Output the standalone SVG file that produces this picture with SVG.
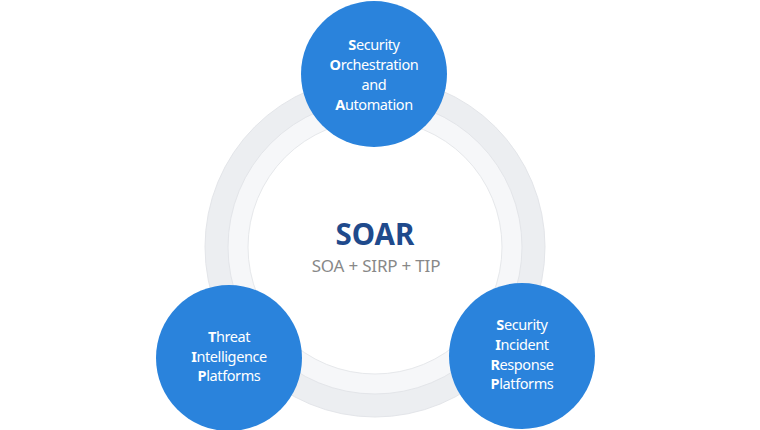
<svg xmlns="http://www.w3.org/2000/svg" width="760" height="430" viewBox="0 0 760 430">
<style>
.node{fill:#2a83dc}
.lbl{font-family:"Noto Sans","Noto Sans CJK KR",sans-serif;font-size:14.5px;fill:#ffffff;text-anchor:middle;letter-spacing:-0.4px}
.b{font-weight:bold}
</style>
<rect width="760" height="430" fill="#ffffff"/>
<g id="ring">
<circle cx="375" cy="247" r="170" fill="#eceef1" stroke="#e3e5e9" stroke-width="1"/>
<circle cx="375" cy="247" r="147" fill="#f6f7f9" stroke="#e3e5e9" stroke-width="1"/>
<circle cx="375" cy="247" r="127" fill="#ffffff" stroke="#e6e8eb" stroke-width="1"/>
</g>
<g id="center">
<text x="375" y="245" font-family="'Noto Sans','Noto Sans CJK KR',sans-serif" font-size="29.5" font-weight="bold" fill="#1f4a8c" text-anchor="middle">SOAR</text>
<text x="376" y="272" font-family="'Noto Sans','Noto Sans CJK KR',sans-serif" font-size="17" fill="#888888" text-anchor="middle" letter-spacing="-0.2">SOA + SIRP + TIP</text>
</g>
<g id="connectors"></g>
<g id="soa">
<circle class="node" cx="374" cy="74" r="73"/>
<text class="lbl" x="374" y="50"><tspan class="b">S</tspan>ecurity</text>
<text class="lbl" x="374" y="70"><tspan class="b">O</tspan>rchestration</text>
<text class="lbl" x="374" y="90">and</text>
<text class="lbl" x="374" y="110"><tspan class="b">A</tspan>utomation</text>
</g>
<g id="tip">
<circle class="node" cx="229" cy="358" r="73"/>
<text class="lbl" x="229" y="342"><tspan class="b">T</tspan>hreat</text>
<text class="lbl" x="229" y="362"><tspan class="b">I</tspan>ntelligence</text>
<text class="lbl" x="229" y="381"><tspan class="b">P</tspan>latforms</text>
</g>
<g id="sirp">
<circle class="node" cx="522" cy="356" r="73"/>
<text class="lbl" x="522" y="330"><tspan class="b">S</tspan>ecurity</text>
<text class="lbl" x="522" y="350"><tspan class="b">I</tspan>ncident</text>
<text class="lbl" x="522" y="370"><tspan class="b">R</tspan>esponse</text>
<text class="lbl" x="522" y="389"><tspan class="b">P</tspan>latforms</text>
</g>
</svg>
